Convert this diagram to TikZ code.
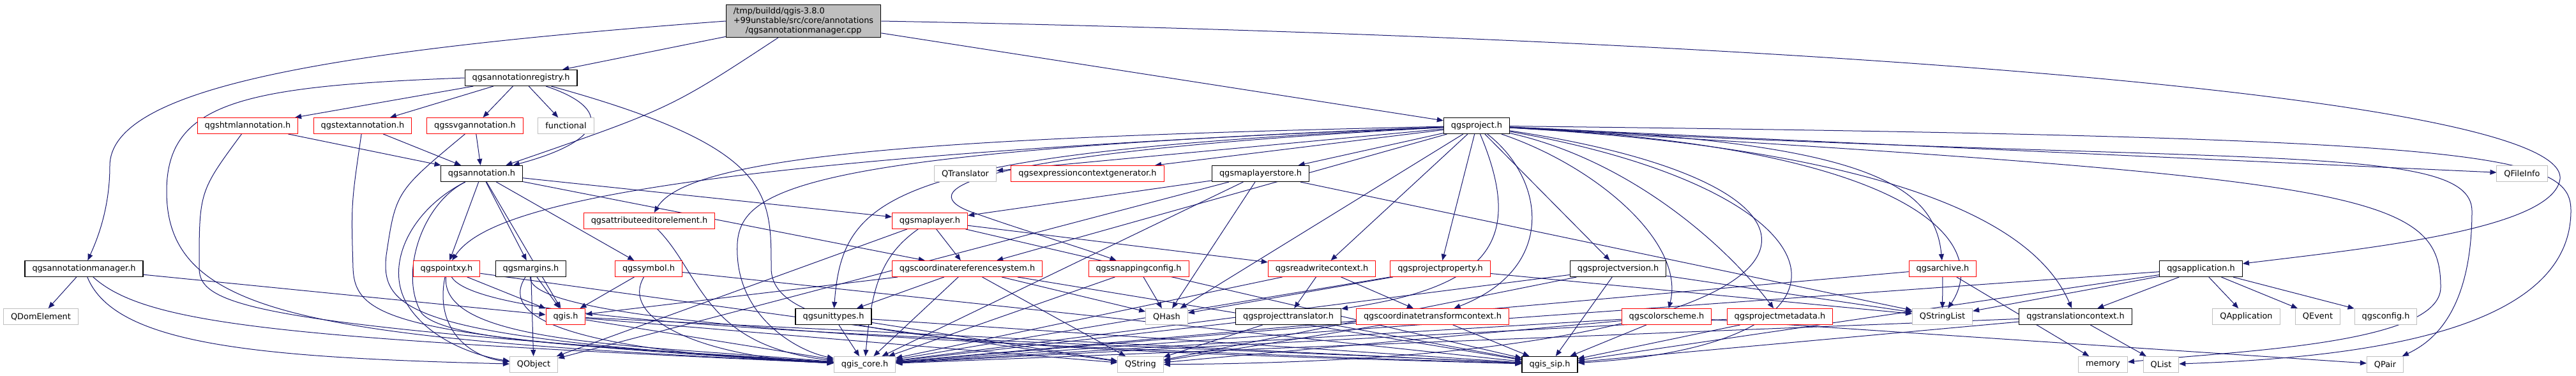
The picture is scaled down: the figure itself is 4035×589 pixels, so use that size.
\documentclass[tikz,border=0pt]{standalone}
\usepackage{fontspec}
\setmainfont{DejaVu Sans}
\usetikzlibrary{arrows.meta}
\definecolor{edgeblue}{RGB}{25,25,112}
\definecolor{extgray}{RGB}{191,191,191}
\pgfdeclarelayer{edges}
\pgfsetlayers{edges,main}

\begin{document}
\begin{tikzpicture}[
  x=1pt, y=-1pt,
  >={Triangle[length=10pt,width=8pt]},
  doc/.style={rectangle, draw=black, line width=1.2pt, fill=white, minimum height=25pt,
              inner xsep=11.5pt, inner ysep=2pt, font=\fontsize{12.9}{15}\selectfont},
  trunc/.style={doc, draw=red, line width=1pt},
  ext/.style={doc, draw=extgray, line width=1pt},
  dep/.style={->, draw=edgeblue, line width=1pt}
]
\useasboundingbox (0,0) rectangle (4035,589);

% row 0 and 1
\node[doc, fill=extgray, align=left, inner ysep=4pt] (root) at (1258.5,33)
  {/tmp/buildd/qgis-3.8.0\\+99unstable/src/core/annotations\\\hspace*{19pt}/qgsannotationmanager.cpp};
\node[doc] (annreg) at (816,122) {qgsannotationregistry.h};

% row 2
\node[trunc] (html) at (388,197) {qgshtmlannotation.h};
\node[trunc] (textann) at (568,197) {qgstextannotation.h};
\node[trunc] (svg) at (744,197) {qgssvgannotation.h};
\node[ext] (functional) at (886.5,197) {functional};
\node[doc] (project) at (2313,197) {qgsproject.h};

% row 3
\node[doc] (ann) at (754.5,272) {qgsannotation.h};
\node[ext] (translator) at (1512,272) {QTranslator};
\node[trunc] (exprgen) at (1703.5,272) {qgsexpressioncontextgenerator.h};
\node[doc] (mlstore) at (1974.5,272) {qgsmaplayerstore.h};
\node[ext] (qfileinfo) at (3950.5,272) {QFileInfo};

% row 4
\node[trunc] (attredit) at (1017,346) {qgsattributeeditorelement.h};
\node[trunc] (maplayer) at (1456.5,346) {qgsmaplayer.h};

% row 5
\node[doc] (manager) at (131.5,421) {qgsannotationmanager.h};
\node[trunc] (pointxy) at (699.5,421) {qgspointxy.h};
\node[doc] (margins) at (831.5,421) {qgsmargins.h};
\node[trunc] (symbol) at (1016,421) {qgssymbol.h};
\node[trunc] (crs) at (1515,421) {qgscoordinatereferencesystem.h};
\node[trunc] (snapping) at (1783.5,421) {qgssnappingconfig.h};
\node[trunc] (rwcontext) at (2070.5,421) {qgsreadwritecontext.h};
\node[trunc] (projprop) at (2256,421) {qgsprojectproperty.h};
\node[doc] (projversion) at (2534.5,421) {qgsprojectversion.h};
\node[trunc] (archive) at (3043,421) {qgsarchive.h};
\node[doc] (application) at (3447.5,421) {qgsapplication.h};

% row 6
\node[ext] (domelement) at (64,496) {QDomElement};
\node[trunc] (qgish) at (886,496) {qgis.h};
\node[doc] (unittypes) at (1305.5,496) {qgsunittypes.h};
\node[ext] (qhash) at (1827.5,496) {QHash};
\node[doc] (projtrans) at (2018,496) {qgsprojecttranslator.h};
\node[trunc] (ctcontext) at (2244,496) {qgscoordinatetransformcontext.h};
\node[trunc] (colorscheme) at (2610.5,496) {qgscolorscheme.h};
\node[trunc] (projmeta) at (2788,496) {qgsprojectmetadata.h};
\node[ext] (qstringlist) at (3042.5,496) {QStringList};
\node[doc] (transctx) at (3251,496) {qgstranslationcontext.h};
\node[ext] (qapplication) at (3518.5,496) {QApplication};
\node[ext] (qevent) at (3630.5,496) {QEvent};
\node[ext] (qgsconfig) at (3737,496) {qgsconfig.h};

% row 7
\node[ext] (qobject) at (836,571) {QObject};
\node[ext] (qgiscore) at (1354.5,571) {qgis\_core.h};
\node[ext] (qstring) at (1786.5,571) {QString};
\node[doc] (qgissip) at (2427.5,571) {qgis\_sip.h};
\node[ext] (memory) at (3294,571) {memory};
\node[ext] (qlist) at (3385,571) {QList};
\node[ext] (qpair) at (3736,571) {QPair};

\begin{pgfonlayer}{edges}
% the source file
\draw[dep] (root.west) .. controls (500,80) and (172,140) .. (172,260) .. controls (172,330) and (150,380) .. (manager);
\draw[dep] (root) -- (annreg);
\draw[dep] (root) .. controls (1050,170) .. (ann);
\draw[dep] (root) -- (project);
\draw[dep] (root.east) .. controls (2800,60) and (4020,150) .. (4010,280) .. controls (4000,360) and (3700,390) .. (application);

% registry and annotations
\draw[dep] (annreg) -- (html);
\draw[dep] (annreg) -- (textann);
\draw[dep] (annreg) -- (svg);
\draw[dep] (annreg) -- (functional);
\draw[dep] (annreg) .. controls (960,170) and (950,220) .. (ann);
\draw[dep] (annreg.west) .. controls (380,135) and (261,160) .. (261,300) .. controls (261,500) and (500,530) .. (qgiscore);
\draw[dep] (annreg) .. controls (1208,230) and (1208,300) .. (1208,420) .. controls (1208,530) and (1500,545) .. (qgissip);
\draw[dep] (html) -- (ann);
\draw[dep] (html) .. controls (312,300) .. (312,420) .. controls (312,480) and (400,510) .. (qgiscore);
\draw[dep] (textann) -- (ann);
\draw[dep] (textann) .. controls (550,320) .. (553,420) .. controls (556,500) and (620,530) .. (qgiscore);
\draw[dep] (svg) -- (ann);
\draw[dep] (svg) .. controls (620,300) .. (605,400) .. controls (595,490) and (650,530) .. (qgiscore);
\draw[dep] (manager) -- (domelement);
\draw[dep] (manager) -- (qgish);
\draw[dep] (manager) .. controls (180,540) and (400,560) .. (qobject);
\draw[dep] (manager) .. controls (230,510) and (450,530) .. (qgiscore);
\draw[dep] (ann) -- (pointxy);
\draw[dep] (ann) -- (margins);
\draw[dep] (ann) -- (qgish);
\draw[dep] (ann) -- (symbol);
\draw[dep] (ann) -- (maplayer);
\draw[dep] (ann) -- (crs);
\draw[dep] (ann) .. controls (640,330) and (600,420) .. (640,480) .. controls (680,540) and (760,560) .. (qobject);
\draw[dep] (ann) .. controls (660,320) and (625,430) .. (660,490) .. controls (700,540) and (1000,545) .. (qgiscore);
\draw[dep] (attredit) .. controls (1100,430) and (1100,540) .. (qgiscore);

% core headers
\draw[dep] (pointxy) -- (qgish);
\draw[dep] (pointxy) .. controls (680,520) and (740,560) .. (qobject);
\draw[dep] (pointxy) .. controls (690,540) and (1000,540) .. (qgiscore);
\draw[dep] (pointxy) .. controls (760,520) and (1600,530) .. (qgissip);
\draw[dep] (pointxy) -- (qstring);
\draw[dep] (margins) -- (qgish);
\draw[dep] (margins) -- (qobject);
\draw[dep] (margins) .. controls (780,500) and (900,550) .. (qgiscore);
\draw[dep] (margins) .. controls (825,510) and (1500,540) .. (qgissip);
\draw[dep] (symbol) -- (qgish);
\draw[dep] (symbol) .. controls (970,500) and (1100,560) .. (qgiscore);
\draw[dep] (symbol) -- (qgissip);
\draw[dep] (qgish) -- (qgiscore);
\draw[dep] (qgish) -- (qgissip);
\draw[dep] (qgish) -- (qstring);
\draw[dep] (crs) -- (qgish);
\draw[dep] (crs) -- (unittypes);
\draw[dep] (crs) -- (qgiscore);
\draw[dep] (crs) -- (qstring);
\draw[dep] (crs) -- (qgissip);
\draw[dep] (crs) -- (qhash);
\draw[dep] (unittypes) -- (qgiscore);
\draw[dep] (unittypes) -- (qgissip);
\draw[dep] (unittypes) -- (qstring);
\draw[dep] (maplayer) -- (crs);
\draw[dep] (maplayer) -- (rwcontext);
\draw[dep] (maplayer) .. controls (1380,400) and (1365,450) .. (qgiscore);
\draw[dep] (maplayer) -- (qobject);
\draw[dep] (maplayer) -- (qgissip);
\draw[dep] (mlstore) -- (maplayer);
\draw[dep] (mlstore) -- (qobject);
\draw[dep] (mlstore) -- (qgiscore);
\draw[dep] (mlstore) -- (qhash);
\draw[dep] (mlstore) -- (qstringlist);

% project
\draw[dep] (project) -- (translator);
\draw[dep] (project) -- (exprgen);
\draw[dep] (project) -- (mlstore);
\draw[dep] (project) -- (crs);
\draw[dep] (project) -- (rwcontext);
\draw[dep] (project) -- (projprop);
\draw[dep] (project) -- (projversion);
\draw[dep] (project) -- (qhash);
\draw[dep] (project) -- (qfileinfo);
\draw[dep] (project) .. controls (1500,215) and (1080,240) .. (attredit);
\draw[dep] (project) .. controls (1400,240) and (1320,300) .. (unittypes);
\draw[dep] (project) .. controls (1500,240) and (1420,300) .. (1530,335) .. controls (1600,360) and (1700,390) .. (snapping);
\draw[dep] (project) .. controls (1000,250) and (760,330) .. (pointxy);
\draw[dep] (project) .. controls (1200,240) and (1150,300) .. (1155,400) .. controls (1160,500) and (1250,550) .. (qgiscore);
\draw[dep] (project) .. controls (2390,380) and (2330,450) .. (projtrans);
\draw[dep] (project) .. controls (2420,280) and (2440,420) .. (ctcontext);
\draw[dep] (project) .. controls (2500,260) and (2640,380) .. (colorscheme);
\draw[dep] (project) .. controls (2550,250) and (2700,380) .. (projmeta);
\draw[dep] (project) .. controls (2900,220) and (3030,280) .. (archive);
\draw[dep] (project) .. controls (3000,230) and (3120,380) .. (qstringlist);
\draw[dep] (project) .. controls (3050,240) and (3200,380) .. (transctx);
\draw[dep] (project) .. controls (3900,215) and (4027,240) .. (4027,330) .. controls (4027,520) and (3700,560) .. (qlist);
\draw[dep] (project) .. controls (3500,262) and (3870,220) .. (3872,330) .. controls (3872,500) and (3800,540) .. (qpair);
\draw[dep] (project) .. controls (3700,280) and (3823,300) .. (3823,450) .. controls (3823,540) and (3500,550) .. (memory);
\draw[dep] (project) .. controls (2900,300) and (2960,540) .. (qgissip);
\draw[dep] (project) .. controls (3000,300) and (2900,565) .. (qstring);

% project parts
\draw[dep] (rwcontext) -- (projtrans);
\draw[dep] (rwcontext) -- (ctcontext);
\draw[dep] (rwcontext) -- (qgiscore);
\draw[dep] (projprop) -- (qhash);
\draw[dep] (projprop) -- (qstringlist);
\draw[dep] (projprop) -- (qgiscore);
\draw[dep] (projversion) -- (qgiscore);
\draw[dep] (projversion) -- (qgissip);
\draw[dep] (projversion) -- (qstringlist);
\draw[dep] (projversion) -- (qstring);
\draw[dep] (snapping) -- (qhash);
\draw[dep] (snapping) -- (qgiscore);
\draw[dep] (projtrans) -- (qgiscore);
\draw[dep] (projtrans) -- (qstring);
\draw[dep] (projtrans) -- (qgissip);
\draw[dep] (ctcontext) -- (qgiscore);
\draw[dep] (ctcontext) -- (qgissip);
\draw[dep] (ctcontext) -- (qstring);
\draw[dep] (colorscheme) -- (qgiscore);
\draw[dep] (colorscheme) -- (qgissip);
\draw[dep] (colorscheme) -- (qstring);
\draw[dep] (colorscheme) -- (qpair);
\draw[dep] (projmeta) -- (qgiscore);
\draw[dep] (projmeta) -- (qgissip);
\draw[dep] (archive) -- (qstringlist);
\draw[dep] (archive) -- (qgiscore);
\draw[dep] (archive) -- (memory);
\draw[dep] (transctx) -- (qgiscore);
\draw[dep] (transctx) -- (qgissip);
\draw[dep] (transctx) -- (qlist);

% application
\draw[dep] (application) -- (qstringlist);
\draw[dep] (application) -- (transctx);
\draw[dep] (application) -- (qgiscore);
\draw[dep] (application) -- (qgissip);
\draw[dep] (application) -- (qapplication);
\draw[dep] (application) -- (qevent);
\draw[dep] (application) -- (qgsconfig);
\end{pgfonlayer}
\end{tikzpicture}
\end{document}
